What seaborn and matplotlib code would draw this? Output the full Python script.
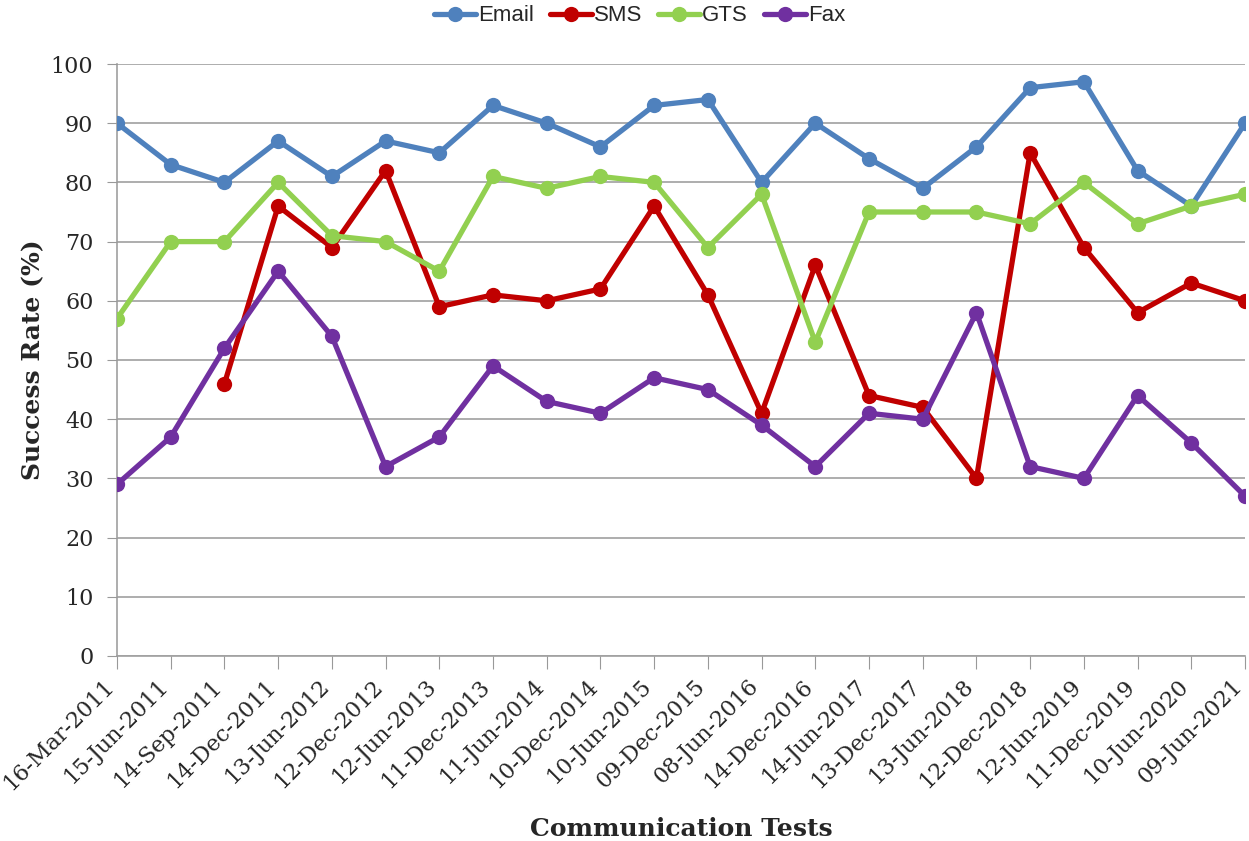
import pandas as pd
import numpy as np
import matplotlib
matplotlib.use("Agg")
import matplotlib.pyplot as plt
import matplotlib.transforms as mtransforms
import seaborn as sns

dates = ["16-Mar-2011", "15-Jun-2011", "14-Sep-2011", "14-Dec-2011", "13-Jun-2012",
         "12-Dec-2012", "12-Jun-2013", "11-Dec-2013", "11-Jun-2014", "10-Dec-2014",
         "10-Jun-2015", "09-Dec-2015", "08-Jun-2016", "14-Dec-2016", "14-Jun-2017",
         "13-Dec-2017", "13-Jun-2018", "12-Dec-2018", "12-Jun-2019", "11-Dec-2019",
         "10-Jun-2020", "09-Jun-2021"]

email = [90, 83, 80, 87, 81, 87, 85, 93, 90, 86, 93, 94, 80, 90, 84, 79, 86, 96, 97, 82, 76, 90]
sms = [np.nan, np.nan, 46, 76, 69, 82, 59, 61, 60, 62, 76, 61, 41, 66, 44, 42, 30, 85, 69, 58, 63, 60]
gts = [57, 70, 70, 80, 71, 70, 65, 81, 79, 81, 80, 69, 78, 53, 75, 75, 75, 73, 80, 73, 76, 78]
fax = [29, 37, 52, 65, 54, 32, 37, 49, 43, 41, 47, 45, 39, 32, 41, 40, 58, 32, 30, 44, 36, 27]

series = {"Email": email, "SMS": sms, "GTS": gts, "Fax": fax}
colors = {"Email": "#4F81BD", "SMS": "#C00000", "GTS": "#92D050", "Fax": "#7030A0"}

rows = []
for name, vals in series.items():
    for i, v in enumerate(vals):
        rows.append({"test": i, "rate": v, "series": name})
df = pd.DataFrame(rows).dropna()

sns.set_style("white")
plt.rcParams['font.family'] = ['DejaVu Serif']

fig = plt.figure(figsize=(12.49, 8.41), dpi=100)
ax = fig.add_axes([0.0937, 0.2200, 0.9031, 0.7039])

sns.lineplot(data=df, x="test", y="rate", hue="series", palette=colors,
             hue_order=list(series.keys()), marker="o", markersize=11,
             markeredgewidth=0, linewidth=3.8, ax=ax, legend=True)

ax.set_xlim(0, len(dates) - 1)
ax.set_ylim(0, 100)
ax.set_yticks(range(0, 101, 10))
ax.set_xticks(range(len(dates)))
ax.tick_params(axis="y", labelsize=16, length=7, color="#999999", direction="out", left=True, pad=10)
ax.tick_params(axis="x", length=9, color="#999999", direction="out", bottom=True, pad=4)
ax.set_xticklabels(dates, rotation=45, ha="right", va="center",
                   rotation_mode="anchor", fontsize=16)
# push the slanted labels a little down-left, like the original
shift = mtransforms.ScaledTranslation(-6 / 100, -9 / 100, fig.dpi_scale_trans)
for lab in ax.get_xticklabels():
    lab.set_transform(lab.get_transform() + shift)

ax.yaxis.grid(True, color="#A0A0A0", linewidth=1.2)
ax.set_axisbelow(True)
for s in ["top", "right"]:
    ax.spines[s].set_visible(False)
for s in ["left", "bottom"]:
    ax.spines[s].set_color("#A0A0A0")
    ax.spines[s].set_linewidth(1.2)
    ax.spines[s].set_zorder(0)

ax.set_xlabel("Communication Tests", fontsize=18, fontweight="bold", labelpad=16)
ax.set_ylabel("Success Rate (%)", fontsize=18, fontweight="bold", labelpad=4)

handles, labels = ax.get_legend_handles_labels()
ax.get_legend().remove()
fig.legend(handles, labels, loc="center", bbox_to_anchor=(0.512, 0.981), ncol=4,
           frameon=False, prop={"family": "Liberation Sans", "size": 16},
           handlelength=1.9, handletextpad=0.1, columnspacing=0.7)

fig.savefig("out.png", dpi=100)
